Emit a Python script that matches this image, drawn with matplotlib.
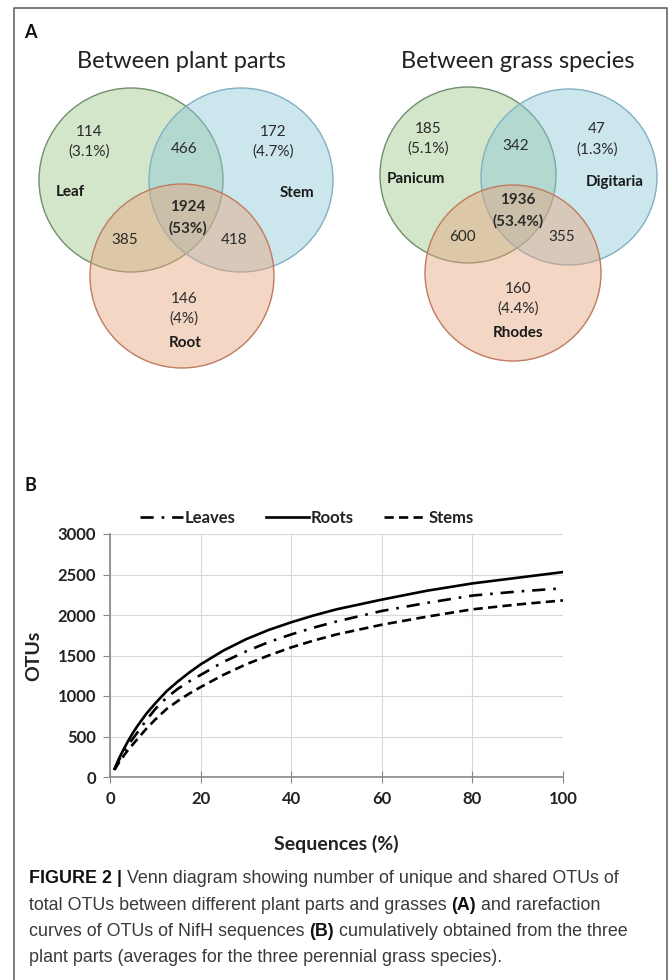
import matplotlib
matplotlib.use("Agg")
import matplotlib.pyplot as plt
from matplotlib.patches import Circle

# ---- data ----
parts_labels = ["Leaf", "Stem", "Root"]
parts_counts = ["114", "172", "146", "466", "385", "418", "1924"]
parts_pcts = ["(3.1%)", "(4.7%)", "(4%)", "(53%)"]

grass_labels = ["Panicum", "Digitaria", "Rhodes"]
grass_counts = ["185", "47", "160", "342", "600", "355", "1936"]
grass_pcts = ["(5.1%)", "(1.3%)", "(4.4%)", "(53.4%)"]

seq_pct = [1, 2, 3, 4, 5, 6, 8, 10, 12.5, 15, 17.5, 20, 25, 30, 35, 40, 45, 50, 60, 70, 80, 90, 100]
otus_leaves = [95, 210, 310, 395, 470, 545, 700, 840, 980, 1090, 1180, 1260, 1420, 1550, 1665, 1760, 1845, 1920, 2050, 2150, 2240, 2290, 2330]
otus_roots = [100, 230, 340, 445, 540, 625, 780, 910, 1060, 1180, 1290, 1390, 1560, 1700, 1815, 1910, 1995, 2070, 2190, 2300, 2390, 2460, 2530]
otus_stems = [90, 180, 260, 335, 400, 465, 595, 710, 840, 940, 1030, 1110, 1260, 1390, 1500, 1600, 1685, 1760, 1880, 1980, 2070, 2130, 2180]

font = "Lato"
plt.rcParams["font.family"] = [font, "DejaVu Sans"]

fig = plt.figure(figsize=(6.69, 9.80), dpi=100)

# full-figure canvas in pixel coordinates for the Venn part, frame and caption
canvas = fig.add_axes([0, 0, 1, 1])
canvas.set_xlim(0, 669)
canvas.set_ylim(980, 0)
canvas.axis("off")

# frame
canvas.plot([14, 14, 667, 667], [980, 8, 8, 980], color="#666666", lw=1.2)

canvas.text(24, 33, "A", fontsize=13, fontweight="bold", va="center", color="#111111")
canvas.text(181, 62, "Between plant parts", fontsize=17, ha="center", va="center", color="#222222")
canvas.text(518, 62, "Between grass species", fontsize=17, ha="center", va="center", color="#222222")

fills = ["#9fc98a", "#8ec8d8", "#e8a47c"]
edges = ["#6f8f6f", "#82b0c2", "#c07a60"]


def venn(centers, r, labels, label_pos, counts, count_pos, pcts, pct_pos):
    for (cx, cy), fc, ec in zip(centers, fills, edges):
        canvas.add_patch(Circle((cx, cy), r, facecolor=fc, alpha=0.45, edgecolor="none"))
        canvas.add_patch(Circle((cx, cy), r, facecolor="none", edgecolor=ec, lw=1.0))
    for lab, (x, y) in zip(labels, label_pos):
        canvas.text(x, y, lab, fontsize=11, fontweight="bold", ha="center", va="center", color="#1a1a1a")
    for i, (c, (x, y)) in enumerate(zip(counts, count_pos)):
        w = "bold" if i == 6 else "normal"
        canvas.text(x, y, c, fontsize=11, fontweight=w, ha="center", va="center", color="#2a2a2a")
    for i, (p, (x, y)) in enumerate(zip(pcts, pct_pos)):
        w = "bold" if i == 3 else "normal"
        canvas.text(x, y, p, fontsize=11, fontweight=w, ha="center", va="center", color="#2a2a2a")


venn([(131, 180), (241, 180), (182, 276)], 92,
     parts_labels, [(70, 192), (297, 193), (185, 343)],
     parts_counts, [(89, 132), (273, 132), (184, 299), (184, 149), (125, 240), (234, 240), (188, 207)],
     parts_pcts, [(89, 152), (273, 152), (184, 319), (188, 228)])

venn([(468, 175), (569, 177), (513, 273)], 88,
     grass_labels, [(416, 179), (615, 182), (518, 333)],
     grass_counts, [(428, 129), (597, 129), (518, 289), (516, 146), (462, 237), (562, 237), (518, 200)],
     grass_pcts, [(428, 149), (597, 150), (518, 309), (518, 221)])

canvas.text(24, 485, "B", fontsize=13, fontweight="bold", va="center", color="#111111")

# ---- panel B: rarefaction curves ----
ax = fig.add_axes([110 / 669, 1 - 777 / 980, 453 / 669, 243 / 980])
ax.plot(seq_pct, otus_leaves, color="black", lw=1.9, ls=(0, (5, 3, 1, 3)), label="Leaves")
ax.plot(seq_pct, otus_roots, color="black", lw=1.9, ls="-", label="Roots")
ax.plot(seq_pct, otus_stems, color="black", lw=1.9, ls=(0, (3.5, 2)), label="Stems")
ax.set_xlim(0, 100)
ax.set_ylim(0, 3000)
ax.set_xticks(range(0, 101, 20))
ax.set_yticks(range(0, 3001, 500))
ax.grid(True, color="#d9d9d9", lw=0.8)
ax.set_axisbelow(True)
for s in ["top", "right"]:
    ax.spines[s].set_visible(False)
for s in ["left", "bottom"]:
    ax.spines[s].set_color("#888888")
    ax.spines[s].set_linewidth(1.2)
ax.tick_params(axis="y", direction="out", length=5, color="#888888", labelsize=12, labelcolor="#222222", pad=5)
ax.tick_params(axis="x", direction="inout", length=8, color="#888888", labelsize=12, labelcolor="#222222", pad=6)
for lab in ax.get_xticklabels() + ax.get_yticklabels():
    lab.set_fontweight("bold")
ax.set_xlabel("Sequences (%)", fontsize=14, fontweight="bold", color="#222222")
ax.set_ylabel("OTUs", fontsize=14, fontweight="bold", color="#222222")
ax.xaxis.set_label_coords(0.5, -0.238)
ax.yaxis.set_label_coords(-0.15, 0.5)
leg = ax.legend(loc="center", bbox_to_anchor=(0.435, 1.066), ncol=3, frameon=False,
                handlelength=2.6, handletextpad=0.1, columnspacing=1.8,
                prop={"family": font, "weight": "bold", "size": 12})
for t in leg.get_texts():
    t.set_color("#222222")

# ---- caption ----
cap_family = ["Liberation Sans"]
caption_lines = [
    [("FIGURE 2 |", True), ("Venn diagram showing number of unique and shared OTUs of", False)],
    [("total OTUs between different plant parts and grasses", False), ("(A)", True), ("and rarefaction", False)],
    [("curves of OTUs of NifH sequences", False), ("(B)", True), ("cumulatively obtained from the three", False)],
    [("plant parts (averages for the three perennial grass species).", False)],
]
caption_y = [878, 905, 931, 957]

renderer = fig.canvas.get_renderer()


def text_width(s, size, bold=False):
    t = fig.text(0, 0, s, family=cap_family, fontsize=size, fontweight="bold" if bold else "normal")
    w = t.get_window_extent(renderer).width
    t.remove()
    return w


def line_width(segs, size):
    sp = text_width("a a", size) - text_width("aa", size)
    return sum(text_width(s, size, b) for s, b in segs) + sp * (len(segs) - 1)


# first caption line spans about 29..619 px in the reference
cap_size = 12.0
cap_size *= 590 / line_width(caption_lines[0], cap_size)
space_w = text_width("a a", cap_size) - text_width("aa", cap_size)

for segs, y in zip(caption_lines, caption_y):
    x = 29
    for txt, bold in segs:
        t = fig.text(x / 669, 1 - y / 980, txt, family=cap_family, fontsize=cap_size,
                     fontweight="bold" if bold else "normal",
                     color="#111111" if bold else "#3a3a3a", va="center", ha="left")
        x += t.get_window_extent(renderer).width + space_w

fig.savefig("out.png", dpi=100)
